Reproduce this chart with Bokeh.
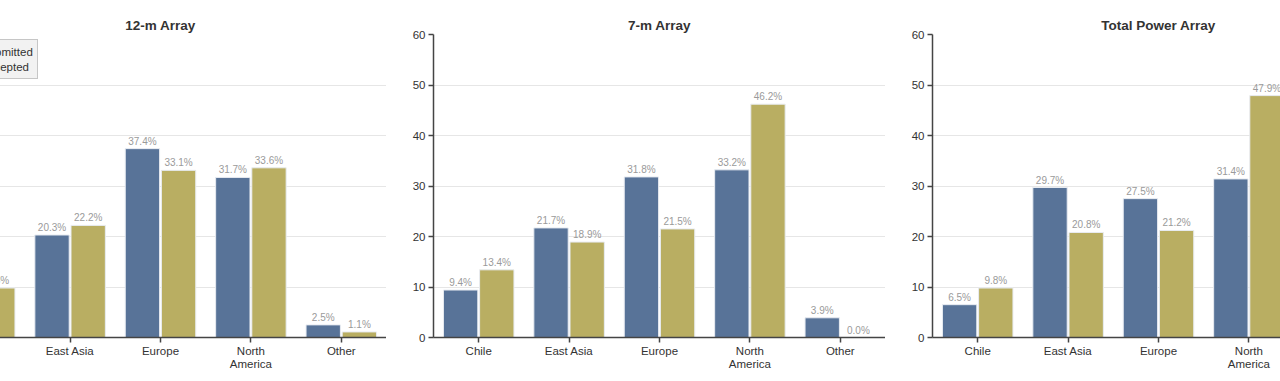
from bokeh.plotting import figure
from bokeh.layouts import row, column
from bokeh.models import ColumnDataSource, FactorRange, Range1d, FixedTicker, Legend, LegendItem
from bokeh.transform import dodge
from bokeh.embed import file_html
from bokeh.resources import INLINE
from bokeh.core.properties import value

regions = ["Chile", "East Asia", "Europe", "North\nAmerica", "Other"]
titles = ["12-m Array", "7-m Array", "Total Power Array"]
submitted_12m = [8.1, 20.3, 37.4, 31.7, 2.5]
accepted_12m = [9.8, 22.2, 33.1, 33.6, 1.1]
submitted_7m = [9.4, 21.7, 31.8, 33.2, 3.9]
accepted_7m = [13.4, 18.9, 21.5, 46.2, 0.0]
submitted_tp = [6.5, 29.7, 27.5, 31.4, 4.9]
accepted_tp = [9.8, 20.8, 21.2, 47.9, 0.3]
y_ticks = [0, 10, 20, 30, 40, 50, 60]
series_names = ["Submitted", "Accepted"]

FONT = "Liberation Sans"
BLUE = "#587398"
GOLD = "#b9ae62"


def make(title, sub, acc, legend=False):
    src = ColumnDataSource(dict(
        region=regions, sub=sub, acc=acc,
        sub_lbl=[f"{v:.1f}%" for v in sub],
        acc_lbl=[f"{v:.1f}%" for v in acc],
    ))
    p = figure(x_range=FactorRange(*regions), y_range=Range1d(0, 60),
               width=499, height=377, min_border_left=47, min_border_right=0,
               min_border_top=34, min_border_bottom=40,
               output_backend="svg", toolbar_location=None, title=title)
    kw = dict(source=src, width=0.38, line_color="#e8ecf2", line_width=1)
    r1 = p.vbar(x=dodge("region", -0.2, range=p.x_range), top="sub",
                fill_color=BLUE, **kw)
    r2 = p.vbar(x=dodge("region", 0.2, range=p.x_range), top="acc",
                fill_color=GOLD, **kw)
    tkw = dict(source=src, text_align="center", text_baseline="bottom",
               y_offset=-2, text_font_size="10px", text_color="#9a9a9a",
               text_font=value(FONT))
    p.text(x=dodge("region", -0.2, range=p.x_range), y="sub", text="sub_lbl", **tkw)
    p.text(x=dodge("region", 0.2, range=p.x_range), y="acc", text="acc_lbl", **tkw)

    p.title.align = "center"
    p.title.text_font = FONT
    p.title.text_font_size = "13.5px"
    p.title.text_font_style = "bold"
    p.title.text_color = "#333333"
    p.title.standoff = 3

    p.outline_line_color = None
    p.xgrid.grid_line_color = None
    p.ygrid.grid_line_color = "#e6e6e6"
    p.ygrid.grid_line_width = 1
    p.yaxis.ticker = FixedTicker(ticks=y_ticks)
    for ax in (p.xaxis[0], p.yaxis[0]):
        ax.axis_line_color = "#444444"
        ax.axis_line_width = 1.5
        ax.major_tick_line_color = "#444444"
        ax.major_tick_line_width = 1.5
        ax.major_tick_out = 5
        ax.major_tick_in = 0
        ax.minor_tick_line_color = None
        ax.major_label_text_font = FONT
        ax.major_label_text_font_size = "11.5px"
        ax.major_label_text_color = "#333333"
        ax.major_label_text_line_height = 1.13
    p.xaxis.major_label_standoff = 2
    p.yaxis.major_label_standoff = 3

    if legend:
        lg = Legend(items=[LegendItem(label=series_names[0], renderers=[r1]),
                           LegendItem(label=series_names[1], renderers=[r2])],
                    location=(17, 258))
        lg.margin = 0
        lg.padding = 4
        lg.spacing = 0
        lg.glyph_width = 20
        lg.glyph_height = 14
        lg.label_standoff = 5
        lg.label_text_font = FONT
        lg.label_text_font_size = "11.5px"
        lg.label_text_color = "#333333"
        lg.label_height = 15
        lg.background_fill_color = "#f2f2f2"
        lg.background_fill_alpha = 1
        lg.border_line_color = "#999999"
        lg.border_line_width = 1
        p.add_layout(lg)
    return p


p1 = make(titles[0], submitted_12m, accepted_12m, legend=True)
p2 = make(titles[1], submitted_7m, accepted_7m)
p3 = make(titles[2], submitted_tp, accepted_tp)

inner = row(p1, p2, p3, margin=(0, 0, 0, -113))
layout = column(inner, width=1280, styles={"overflow": "hidden"})

open("out.html", "w").write(file_html(layout, INLINE))
